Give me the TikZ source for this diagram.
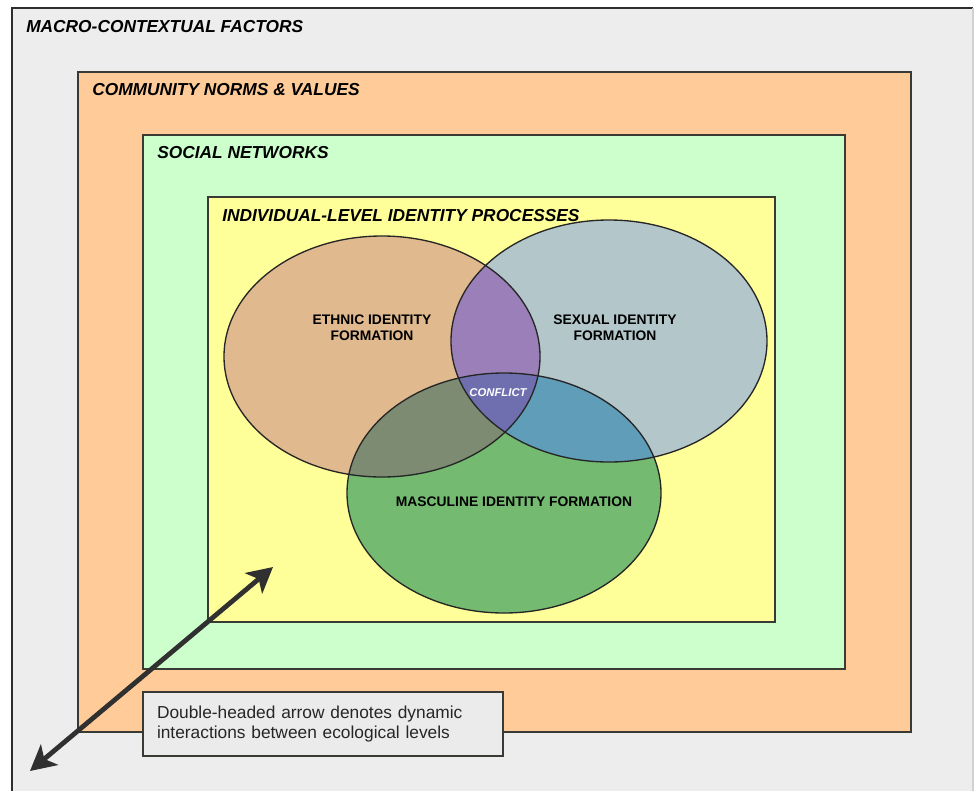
\documentclass[tikz,border=0pt]{standalone}
\usepackage{fontspec}
\setmainfont{Liberation Sans}
\usetikzlibrary{arrows.meta}

% palette
\definecolor{bgGray}{HTML}{EDEDED}
\definecolor{outerLine}{HTML}{2E2E2E}
\definecolor{boxLine}{HTML}{3A3A34}
\definecolor{orangeFill}{HTML}{FFCC99}
\definecolor{greenFill}{HTML}{CCFFCC}
\definecolor{yellowFill}{HTML}{FFFF99}
\definecolor{noteFill}{HTML}{EBEBEB}
\definecolor{arrowInk}{HTML}{303030}
\definecolor{vennLine}{HTML}{262626}
% set regions
\definecolor{cE}{HTML}{E0B98E}
\definecolor{cS}{HTML}{B3C6CA}
\definecolor{cM}{HTML}{74BA70}
\definecolor{cES}{HTML}{9A7FB8}
\definecolor{cEM}{HTML}{7C8B72}
\definecolor{cSM}{HTML}{5F9DB8}
\definecolor{cESM}{HTML}{6F6FAF}

% the three identity sets
\def\ellEthnic{(382,356.5) ellipse (158 and 120.5)}
\def\ellSexual{(609,341) ellipse (158 and 121)}
\def\ellMasc{(504,493) ellipse (157 and 120)}

\tikzset{bigtip/.tip={Stealth[length=19pt,width=20pt,inset=5pt]}}

\begin{document}
\begin{tikzpicture}[x=0.75pt,y=-0.75pt,
  level/.style={draw=boxLine, line width=1.1pt},
  levelLabel/.style={anchor=base west, inner sep=0pt,
    font=\fontsize{13}{15}\selectfont\bfseries\itshape},
  setLabel/.style={align=center, inner sep=0pt,
    font=\fontsize{10.4}{12}\selectfont\bfseries}]

\useasboundingbox (0,0) rectangle (975,790);

% macro-contextual frame
\fill[bgGray] (12,8) rectangle (973,792);
\draw[line width=1.5pt, outerLine] (12,792) -- (12,8) -- (973,8);
\draw[line width=0.8pt, black!18] (973,8) -- (973,792);

% nested ecological levels
\filldraw[level, fill=orangeFill] (78,72) rectangle (911,732);
\filldraw[level, fill=greenFill] (143,135) rectangle (845,669);
\filldraw[level, fill=yellowFill] (208,197) rectangle (775,622);

\node[levelLabel] (macro) at (26,32) {MACRO-CONTEXTUAL FACTORS};
\node[levelLabel] (community) at (92,95) {COMMUNITY NORMS \& VALUES};
\node[levelLabel] (social) at (157,158) {SOCIAL NETWORKS};
\node[levelLabel] (individual) at (222,221) {INDIVIDUAL-LEVEL IDENTITY PROCESSES};

% Venn regions
\fill[cE] \ellEthnic;
\fill[cS] \ellSexual;
\fill[cM] \ellMasc;
\begin{scope}
  \clip \ellEthnic;
  \fill[cES] \ellSexual;
  \fill[cEM] \ellMasc;
\end{scope}
\begin{scope}
  \clip \ellSexual;
  \fill[cSM] \ellMasc;
\end{scope}
\begin{scope}
  \clip \ellEthnic;
  \clip \ellSexual;
  \fill[cESM] \ellMasc;
\end{scope}
\draw[vennLine, line width=1pt] \ellEthnic;
\draw[vennLine, line width=1pt] \ellSexual;
\draw[vennLine, line width=1pt] \ellMasc;

\node[setLabel] (ethnic) at (372,327.5) {ETHNIC IDENTITY\\FORMATION};
\node[setLabel] (sexual) at (615,327.5) {SEXUAL IDENTITY\\FORMATION};
\node[setLabel] (masc) at (514,502) {MASCULINE IDENTITY FORMATION};
\node[inner sep=0pt, text=white, font=\fontsize{8.5}{10}\selectfont\bfseries\itshape]
  (conflict) at (498,393) {CONFLICT};

% interaction arrow and its note
\coordinate (arrowLow) at (30,771);
\coordinate (arrowHigh) at (273,567);
\draw[arrowInk, line width=3.6pt, bigtip-bigtip] (arrowLow) -- (arrowHigh);

\node[draw=boxLine, line width=1pt, fill=noteFill, minimum width=270pt,
  minimum height=48pt, text width=249pt, inner xsep=10.5pt, align=left,
  font=\fontsize{13}{15}\selectfont, text=black!85]
  (note) at (323,724) {Double-headed arrow denotes dynamic\\interactions between ecological levels};
\end{tikzpicture}
\end{document}
